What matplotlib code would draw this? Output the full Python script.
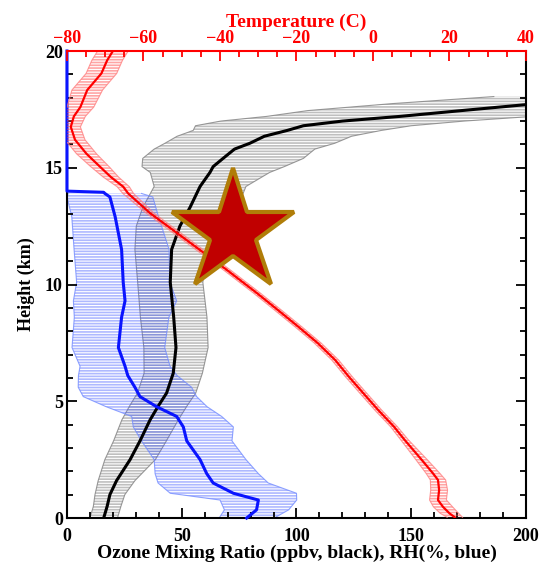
import numpy as np
import matplotlib
matplotlib.use("Agg")
import matplotlib.pyplot as plt
from matplotlib.ticker import MultipleLocator

plt.rcParams['font.family'] = ['Liberation Serif', 'DejaVu Serif']
plt.rcParams['font.weight'] = 'bold'
plt.rcParams['hatch.linewidth'] = 1.2

# ozone (ppbv): height km, mean, standard deviation
oz_h = [0.0, 0.5, 1.0, 1.6, 2.5, 3.3, 4.2, 4.8, 5.35, 6.2, 7.3, 8.6, 10.1, 11.5, 12.5,
        13.3, 14.2, 14.8, 15.05, 15.4, 15.8, 16.05, 16.35, 16.6, 16.8, 17.0, 17.2,
        17.45, 17.75, 18.05]
oz_mean = [16, 17.5, 18.7, 21.6, 27.5, 31.8, 36.2, 39.8, 43.4, 46.3, 47.5, 46.5, 45,
           45.6, 49.2, 53.6, 58, 62.3, 63.7, 68, 73, 79.7, 86, 96, 103, 120, 145, 172,
           205, 240]
oz_sd = [6, 6, 6.5, 8, 11, 11.5, 12.3, 12.5, 12.7, 12.7, 14, 14.5, 14.2, 16, 19, 20.6,
         20, 26, 31, 35, 35, 37, 38, 41, 47, 53, 58, 67, 63, 54]

# relative humidity (%)
rh_h = [0.0, 0.35, 0.77, 1.06, 1.5, 1.9, 2.5, 3.3, 3.9, 4.35, 4.77, 5.2, 5.6, 6.1,
        6.5, 7.3, 8.6, 9.3, 10.1, 11.5, 12.9, 13.75, 13.9, 13.95, 14.0, 20.0]
rh_mean = [78.3, 82.6, 83.4, 72.5, 63.7, 60.9, 58, 52.2, 50.7, 47.8, 39, 31.8, 29.6,
           26.5, 25.3, 22.4, 23.8, 25.3, 24.5, 23.8, 21, 18.7, 16.5, 16, 0, 0]
rh_sd = [12, 14, 16.7, 27.5, 24, 22.5, 20, 19.7, 21.8, 19.6, 22, 24.7, 24.7, 21.5,
         19.6, 20.2, 20.6, 22.5, 20.3, 20.7, 18.9, 18.7, 16, 0, 0, 0]

# temperature (C)
t_h = [0.03, 0.2, 0.48, 0.77, 1.2, 1.63, 1.91, 2.48, 3.34, 3.91, 4.6, 5.34, 6.05, 6.77,
       7.5, 8.19, 8.9, 9.64, 10.6, 11.9, 13.06, 13.9, 14.19, 14.6, 15.05, 15.6, 16.2,
       16.75, 17.2, 17.6, 18.33, 19.04, 19.6, 20.0]
t_mean = [21.4, 20.0, 18.3, 17.0, 17.3, 17.0, 15.7, 12.8, 8.3, 5.5, 1.5, -2.5, -6.3,
          -9.9, -14.5, -19.5, -24.8, -30.4, -38.0, -48.7, -58.3, -64.0, -65.3, -68.5,
          -71.4, -74.9, -77.9, -79.0, -78.2, -76.5, -74.7, -71.0, -69.5, -68.0]
t_sd = [2.0, 2.4, 2.5, 2.2, 2.2, 2.0, 1.8, 1.5, 1.0, 0.9, 0.9, 0.9, 0.9, 0.9, 0.9, 0.9,
        0.9, 0.9, 0.9, 1.0, 1.0, 1.4, 1.6, 2.0, 2.4, 2.6, 2.6, 2.5, 3.0, 3.5, 4.0, 4.0,
        4.0, 4.0]

star_x, star_h = 72.2, 12.25


def band(a, h, m, s, hatch_col, edge_col, z):
    h, m, s = np.asarray(h), np.asarray(m), np.asarray(s)
    a.fill_betweenx(h, m - s, m + s, facecolor='none', edgecolor=hatch_col,
                    hatch='------', linewidth=0, zorder=z)
    a.plot(m - s, h, color=edge_col, lw=0.8, zorder=z)
    a.plot(m + s, h, color=edge_col, lw=0.8, zorder=z)


fig = plt.figure(figsize=(5.41, 5.67), dpi=100)
ax = fig.add_axes([0.1238, 0.0864, 0.8484, 0.8236])

gray_h = (0.45, 0.45, 0.45, 0.45)
blue_h = (0.25, 0.35, 1.0, 0.42)
band(ax, oz_h, oz_mean, oz_sd, gray_h, (0.5, 0.5, 0.5, 0.8), 1)
m = np.asarray(rh_sd) > 0
band(ax, np.asarray(rh_h)[m], np.asarray(rh_mean)[m], np.asarray(rh_sd)[m],
     blue_h, (0.45, 0.55, 1.0, 0.8), 1.1)

ax.plot(oz_mean, oz_h, color='black', lw=2.2, zorder=3)
ax.plot(rh_mean, rh_h, color='#0a14ff', lw=2.2, zorder=3, clip_on=False)

ax.set_xlim(0, 200)
ax.set_ylim(0, 20)
ax.xaxis.set_major_locator(MultipleLocator(50))
ax.xaxis.set_minor_locator(MultipleLocator(10))
ax.yaxis.set_major_locator(MultipleLocator(5))
ax.yaxis.set_minor_locator(MultipleLocator(1))
ax.tick_params(which='both', direction='in', top=False, right=True, width=1.3,
               labelsize=13)
ax.tick_params(axis='x', pad=7)
ax.tick_params(axis='y', pad=3)
ax.tick_params(which='major', length=7)
ax.tick_params(which='minor', length=4)
ax.spines['top'].set_visible(False)
for sp in ['left', 'right', 'bottom']:
    ax.spines[sp].set_linewidth(1.5)
ax.set_xlabel('Ozone Mixing Ratio (ppbv, black), RH(%, blue)', fontsize=14,
              fontweight='bold', labelpad=0)
ax.set_ylabel('Height (km)', fontsize=13, fontweight='bold', labelpad=7)

ax2 = ax.twiny()
band(ax2, t_h, t_mean, t_sd, (1.0, 0.3, 0.3, 0.5), (1.0, 0.5, 0.5, 0.8), 1)
ax2.plot(t_mean, t_h, color='red', lw=1.6, zorder=3)
ax2.set_xlim(-80, 40)
ax2.set_ylim(0, 20)
ax2.xaxis.set_major_locator(MultipleLocator(20))
ax2.xaxis.set_minor_locator(MultipleLocator(5))
ax2.tick_params(which='both', direction='in', colors='red', width=1.3,
                labelsize=13, pad=3)
ax2.tick_params(which='major', length=7)
ax2.tick_params(which='minor', length=4)
for sp in ['left', 'right', 'bottom']:
    ax2.spines[sp].set_visible(False)
ax2.spines['top'].set_color('red')
ax2.spines['top'].set_linewidth(1.5)
ax2.set_xlabel('Temperature (C)', color='red', fontsize=14, fontweight='bold',
               labelpad=2)

for lab in ax.get_xticklabels() + ax.get_yticklabels() + ax2.get_xticklabels():
    lab.set_fontweight('bold')

ax2.plot([star_x], [star_h], transform=ax.transData, marker='*', ms=92,
         mfc='#c00000', mec='#b07d08', mew=3, zorder=10, clip_on=False)

fig.savefig('out.png', dpi=100)
